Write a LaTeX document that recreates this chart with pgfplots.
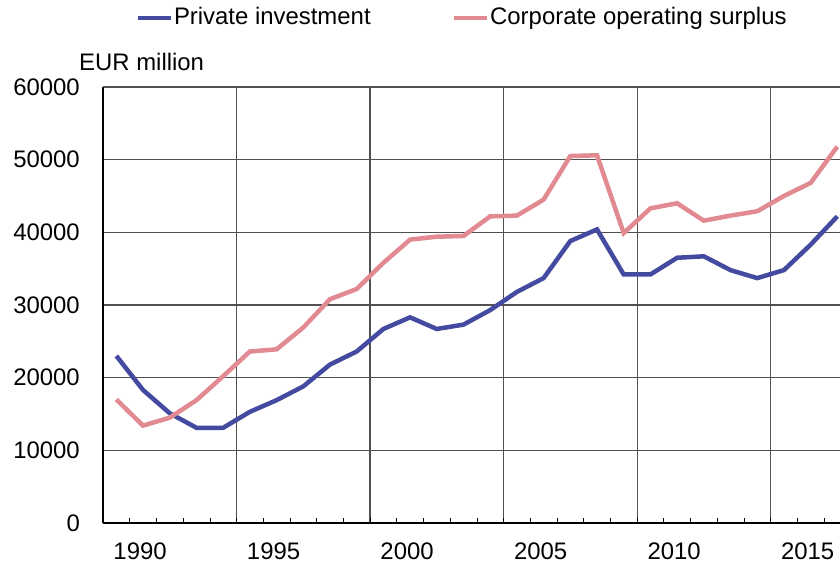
\documentclass[border=0pt]{standalone}
\usepackage{pgfplots}
\pgfplotsset{compat=1.18}
\usepackage{fontspec}
\setmainfont{Liberation Sans}
\definecolor{piblue}{RGB}{68,74,160}
\definecolor{cospink}{RGB}{226,138,145}
\definecolor{gridgray}{RGB}{80,80,80}

\pgfplotstableread{
year pi cos
1989 23000 17000
1990 18300 13400
1991 15100 14500
1992 13100 16900
1993 13100 20200
1994 15300 23600
1995 16900 23900
1996 18800 26900
1997 21800 30800
1998 23600 32200
1999 26700 35800
2000 28300 39000
2001 26700 39400
2002 27300 39500
2003 29300 42200
2004 31800 42300
2005 33700 44500
2006 38800 50500
2007 40400 50600
2008 34200 39900
2009 34200 43300
2010 36500 44000
2011 36700 41600
2012 34800 42300
2013 33700 42900
2014 34800 45000
2015 38300 46800
2016 42200 51800
}\datatable

\begin{document}
\fontsize{24}{28}\selectfont
\begin{tikzpicture}
\useasboundingbox (-103bp,-43bp) rectangle (737bp,523bp);
\begin{axis}[
  at={(0,0)}, anchor=south west,
  scale only axis, width=737bp, height=436bp,
  xmin=1988.5, xmax=2016.1,
  ymin=0, ymax=60000,
  axis x line*=bottom, axis y line*=left,
  axis line style={black, line width=1.6bp},
  font=\fontsize{24}{28}\selectfont,
  /pgf/number format/assume math mode=true,
  /pgf/number format/.cd, 1000 sep={}, /pgfplots/.cd,
  scaled ticks=false,
  ytick={0,10000,...,60000},
  ymajorgrids,
  xtick={1993.5,1998.5,2003.5,2008.5,2013.5},
  xticklabels={},
  xmajorgrids,
  major grid style={gridgray, line width=1.1bp},
  major tick length=0pt,
  extra x ticks={1990,1995,2000,2005,2010,2015},
  extra x tick labels={1990,1995,2000,2005,2010,2015},
  extra x tick style={grid=none, major tick length=0pt},
  minor xtick={1989.5,1990.5,...,2015.5},
  minor tick length=5bp,
  minor tick style={black, line width=0.6bp},
  tick align=inside,
  xticklabel style={anchor=north, inner sep=0pt, yshift=-20bp, xshift=-3bp},
  yticklabel style={anchor=east, inner sep=0pt, xshift=-23bp},
  legend columns=2,
  legend style={at={(axis description cs:0.4865,1.158)}, anchor=center,
    draw=none, fill=none, inner sep=0pt,
    nodes={inner sep=1bp},
    /tikz/every even column/.append style={column sep=80bp}},
  legend image code/.code={\draw[#1, line width=4.5bp] (0bp,0bp) -- (33bp,0bp);},
]
\addplot[piblue, line width=4.5bp] table[x=year, y=pi] {\datatable};
\addlegendentry{Private investment}
\addplot[cospink, line width=4.5bp] table[x=year, y=cos] {\datatable};
\addlegendentry{Corporate operating surplus}
\end{axis}
\node[anchor=base west, inner sep=0pt] at (-24bp,452.7bp) {EUR million};
\end{tikzpicture}
\end{document}
